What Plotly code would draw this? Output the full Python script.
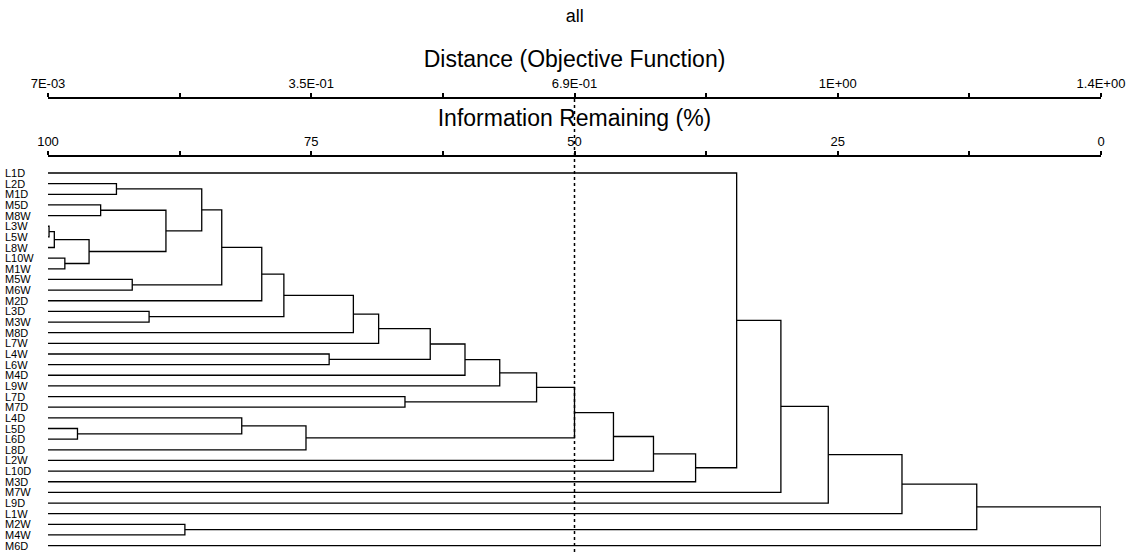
import plotly.graph_objects as go

# Leaf order as drawn, top to bottom
leaves = ["L1D", "L2D", "M1D", "M5D", "M8W", "L3W", "L5W", "L8W", "L10W", "M1W",
          "M5W", "M6W", "M2D", "L3D", "M3W", "M8D", "L7W", "L4W", "L6W", "M4D",
          "L9W", "L7D", "M7D", "L4D", "L5D", "L6D", "L8D", "L2W", "L10D", "M3D",
          "M7W", "L9D", "L1W", "M2W", "M4W", "M6D"]

# Agglomeration steps: cluster "cN" is the result of step N
merge_left = ["L3W", "c0", "L10W", "c1", "M5D", "c4", "L2D", "c6", "M5W", "c7",
              "c9", "L3D", "c10", "c12", "c13", "L4W", "c14", "c16", "c17", "L7D",
              "c18", "L5D", "L4D", "c22", "c20", "c24", "c25", "c26", "L1D", "c28",
              "c29", "c30", "M2W", "c31", "c33"]
merge_right = ["L5W", "L8W", "M1W", "c2", "M8W", "c3", "M1D", "c5", "M6W", "c8",
               "M2D", "M3W", "c11", "M8D", "L7W", "L6W", "c15", "M4D", "L9W", "M7D",
               "c19", "L6D", "c21", "L8D", "c23", "L2W", "L10D", "M3D", "c27", "M7W",
               "L9D", "L1W", "M4W", "c32", "M6D"]
# Information remaining (%) at each fusion
merge_info = [99.9, 99.4, 98.4, 96.1, 95.0, 88.8, 93.5, 85.4, 92.0, 83.5,
              79.7, 90.4, 77.6, 71.0, 68.6, 73.3, 63.7, 60.4, 57.1, 66.1,
              53.6, 97.2, 81.6, 75.5, 50.0, 46.3, 42.5, 38.5, 34.6, 30.4,
              25.9, 18.9, 87.0, 11.8, 0.0]

# Distance (objective function) scale end points
dist_min = 0.007
dist_max = 1.379
dist_ticktext = ["7E-03", "3.5E-01", "6.9E-01", "1E+00", "1.4E+00"]
info_ticks = [100, 75, 50, 25, 0]
cut_info = 50

FONT = "Liberation Sans, Arial, sans-serif"


def to_dist(info):
    return dist_min + (100 - info) / 100 * (dist_max - dist_min)


# Positions of leaves and clusters
pos = {name: (100.0, float(i)) for i, name in enumerate(leaves)}
xs, ys = [], []
for k, (a, b, h) in enumerate(zip(merge_left, merge_right, merge_info)):
    xa, ya = pos[a]
    xb, yb = pos[b]
    xs += [xa, h, h, xb, None]
    ys += [ya, ya, yb, yb, None]
    pos["c%d" % k] = (h, (ya + yb) / 2)

fig = go.Figure()
fig.add_trace(go.Scatter(
    x=xs, y=ys, mode="lines", line=dict(color="black", width=1.3),
    hoverinfo="skip", showlegend=False, xaxis="x", yaxis="y"))
# distance scale shares the plot; a transparent point ties it to the subplot
fig.add_trace(go.Scatter(
    x=[to_dist(cut_info)], y=[0], mode="markers", marker=dict(opacity=0),
    hoverinfo="skip", showlegend=False, xaxis="x2", yaxis="y"))

# leaf labels, left aligned
for i, name in enumerate(leaves):
    fig.add_annotation(x=0, xref="paper", xshift=-45, xanchor="left",
                       y=i, yref="y", text=name, showarrow=False,
                       font=dict(family=FONT, size=11, color="black"))

# cut line
fig.add_shape(type="line", xref="x", yref="paper", x0=cut_info, x1=cut_info,
              y0=0, y1=0.8867, line=dict(color="black", width=1.5, dash="dot"))

tick_font = dict(family=FONT, size=13, color="black")
title_font = dict(family=FONT, size=23, color="black")

fig.update_layout(
    width=1129, height=552,
    margin=dict(l=48, r=28, t=40, b=0),
    paper_bgcolor="white", plot_bgcolor="white",
    title=dict(text="all", x=0.509, xanchor="center", y=1 - 16 / 552,
               yanchor="middle", yref="container",
               font=dict(family=FONT, size=18, color="black")),
    xaxis=dict(range=[100, 0], side="top", anchor="y",
               showline=True, linecolor="black", linewidth=1.5,
               ticks="outside", ticklen=4, tickwidth=1.5, tickcolor="black",
               tickvals=info_ticks, ticktext=[str(v) for v in info_ticks],
               minor=dict(ticks="outside", dtick=12.5, tick0=0, ticklen=4,
                          tickwidth=1.5, tickcolor="black", showgrid=False),
               showgrid=False, zeroline=False, tickfont=tick_font,
               title=dict(text="Information Remaining (%)", font=title_font,
                          standoff=1)),
    xaxis2=dict(range=[dist_min, dist_max], overlaying="x", side="top",
                anchor="free", position=0.8867,
                showline=True, linecolor="black", linewidth=1.5,
                ticks="outside", ticklen=4, tickwidth=1.5, tickcolor="black",
                tickvals=[to_dist(v) for v in info_ticks], ticktext=dist_ticktext,
                minor=dict(ticks="outside", dtick=(dist_max - dist_min) / 8,
                           tick0=dist_min, ticklen=4, tickwidth=1.5,
                           tickcolor="black", showgrid=False),
                showgrid=False, zeroline=False, tickfont=tick_font,
                title=dict(text="Distance (Objective Function)", font=title_font,
                           standoff=1)),
    yaxis=dict(range=[35.6, -1.503], domain=[0, 0.77148], showticklabels=False,
               showline=False, showgrid=False, zeroline=False, ticks=""),
)

fig.write_html("out.html")
